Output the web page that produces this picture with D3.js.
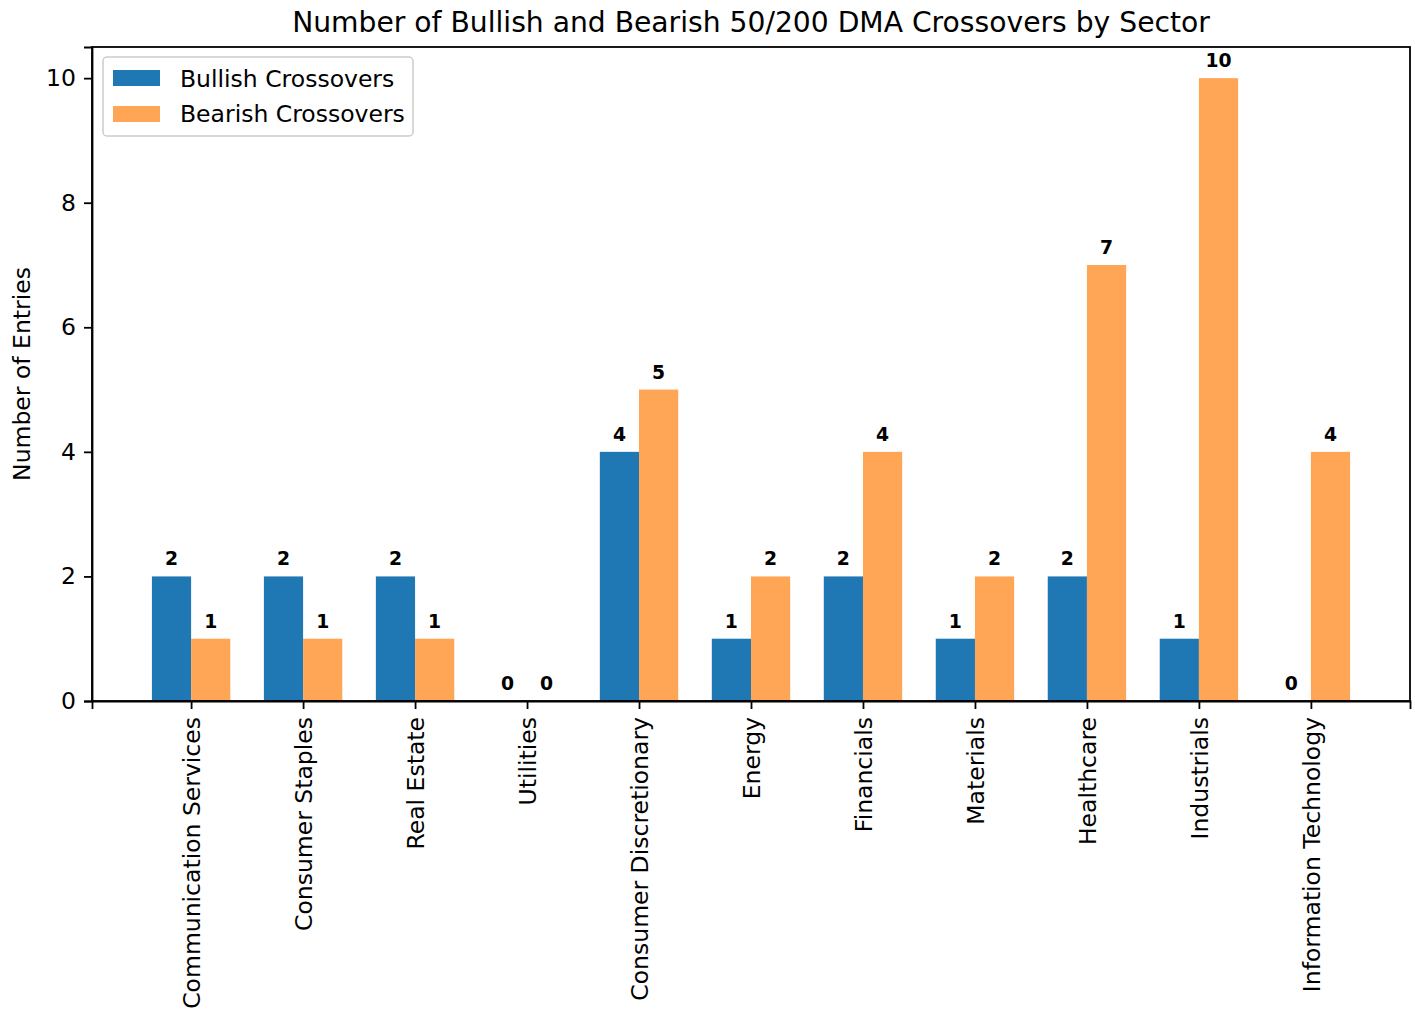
<!DOCTYPE html>
<html>
<head>
<style>
  body { margin: 0; background: #fff; font-family: "DejaVu Sans", sans-serif; }
  .axis text { font-family: "DejaVu Sans", sans-serif; font-size: 23.5px; fill: #000; }
  .axis path, .axis line { stroke: #000; stroke-width: 1.8; }
</style>
</head>
<body>
<div id="chart"></div>
<script src="https://d3js.org/d3.v7.min.js"></script>
<script>
const sectors = ["Communication Services", "Consumer Staples", "Real Estate", "Utilities",
  "Consumer Discretionary", "Energy", "Financials", "Materials", "Healthcare",
  "Industrials", "Information Technology"];
const bullish = [2, 2, 2, 0, 4, 1, 2, 1, 2, 1, 0];
const bearish = [1, 1, 1, 0, 5, 2, 4, 2, 7, 10, 4];
const yTicks = [0, 2, 4, 6, 8, 10];
const seriesNames = ["Bullish Crossovers", "Bearish Crossovers"];
const colors = ["#1f77b4", "#ffa556"];

const W = 1415, H = 1015;
const margin = {top: 47, right: 5, bottom: 314, left: 92};
const width = W - margin.left - margin.right,
      height = H - margin.top - margin.bottom;

const svg = d3.select("#chart").append("svg")
  .attr("width", W).attr("height", H);

svg.append("text")
  .attr("x", margin.left + width / 2).attr("y", 32)
  .attr("text-anchor", "middle")
  .style("font-size", "28.2px")
  .text("Number of Bullish and Bearish 50/200 DMA Crossovers by Sector");

const g = svg.append("g").attr("transform", "translate(" + margin.left + "," + margin.top + ")");

const x = d3.scaleLinear().domain([-0.885, sectors.length - 1 + 0.885]).range([0, width]);
const y = d3.scaleLinear().domain([0, 10.5]).range([height, 0]);
const bw = 0.35;

const series = [bullish, bearish];
series.forEach(function(vals, s) {
  const off = s === 0 ? -bw : 0;
  g.append("g").selectAll("rect")
    .data(vals)
    .enter().append("rect")
      .attr("x", (d, i) => x(i + off))
      .attr("width", x(bw) - x(0))
      .attr("y", d => y(d))
      .attr("height", d => y(0) - y(d))
      .attr("fill", colors[s]);
  g.append("g").selectAll("text")
    .data(vals)
    .enter().append("text")
      .attr("x", (d, i) => x(i + off + bw / 2))
      .attr("y", d => y(d) - 11)
      .attr("text-anchor", "middle")
      .style("font-size", "18.8px")
      .style("font-weight", "bold")
      .text(d => d);
});

// x axis
const xAxis = g.append("g").attr("class", "axis")
  .attr("transform", "translate(0," + height + ")")
  .call(d3.axisBottom(x).tickValues(d3.range(sectors.length)).tickFormat(i => sectors[i]).tickSizeOuter(0).tickSize(8));
xAxis.selectAll("text")
  .attr("transform", "rotate(-90)")
  .attr("text-anchor", "end")
  .attr("x", -16).attr("y", 0).attr("dy", "0.35em");

// y axis
g.append("g").attr("class", "axis")
  .call(d3.axisLeft(y).tickValues(yTicks).tickSizeOuter(0).tickSize(8).tickPadding(8));

// frame
g.append("rect").attr("width", width).attr("height", height)
  .attr("fill", "none").attr("stroke", "#000").attr("stroke-width", 1.8);

svg.append("text")
  .attr("transform", "translate(30," + (margin.top + height / 2) + ") rotate(-90)")
  .attr("text-anchor", "middle")
  .style("font-size", "23.5px")
  .text("Number of Entries");

// legend
const lg = g.append("g").attr("transform", "translate(11,10)");
lg.append("rect").attr("width", 310).attr("height", 79).attr("rx", 4)
  .attr("fill", "#fff").attr("fill-opacity", 0.8)
  .attr("stroke", "#ccc").attr("stroke-width", 1.5);
seriesNames.forEach(function(n, i) {
  lg.append("rect").attr("x", 10).attr("y", 13 + i * 36).attr("width", 47).attr("height", 16)
    .attr("fill", colors[i]);
  lg.append("text").attr("x", 77).attr("y", 30 + i * 35)
    .style("font-size", "23.5px").text(n);
});
</script>
</body>
</html>
